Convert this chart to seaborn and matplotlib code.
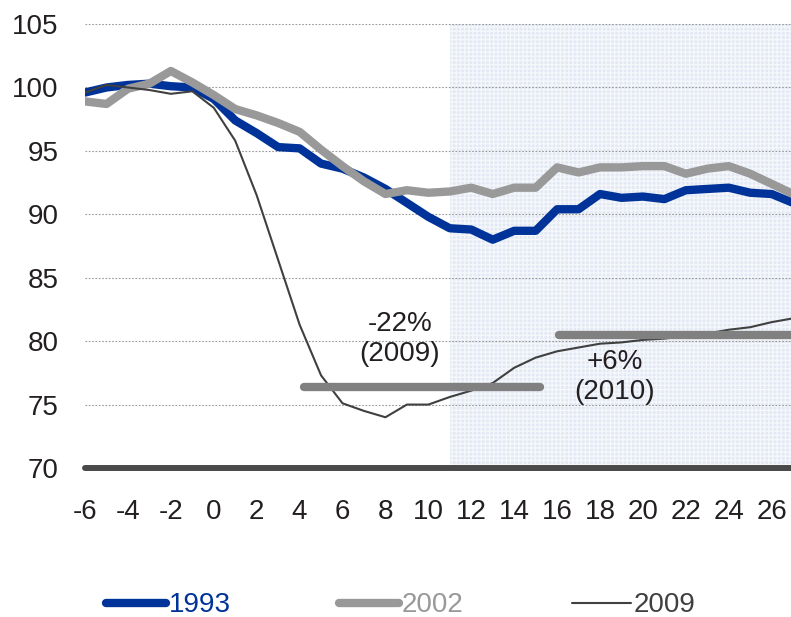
import numpy as np
import pandas as pd
import matplotlib.pyplot as plt
import seaborn as sns

months = list(range(-6, 28))

y1993 = [99.6, 100.0, 100.2, 100.3, 100.1, 100.0, 99.1, 97.4, 96.4, 95.3,
         95.2, 94.0, 93.6, 92.9, 92.0, 90.9, 89.8, 88.9, 88.8, 88.0,
         88.7, 88.7, 90.4, 90.4, 91.6, 91.3, 91.4, 91.2, 91.9, 92.0,
         92.1, 91.7, 91.6, 90.9]
y2002 = [98.9, 98.7, 99.9, 100.3, 101.3, 100.4, 99.4, 98.3, 97.8, 97.2,
         96.5, 95.1, 93.8, 92.6, 91.6, 91.9, 91.7, 91.8, 92.1, 91.6,
         92.1, 92.1, 93.7, 93.3, 93.7, 93.7, 93.8, 93.8, 93.2, 93.6,
         93.8, 93.2, 92.4, 91.6]
y2009 = [99.6, 100.2, 100.0, 99.8, 99.5, 99.7, 98.4, 95.8, 91.5, 86.4,
         81.3, 77.3, 75.1, 74.5, 74.0, 75.0, 75.0, 75.6, 76.1, 76.7,
         77.9, 78.7, 79.2, 79.5, 79.8, 79.9, 80.1, 80.2, 80.4, 80.6,
         80.9, 81.1, 81.5, 81.8]

series_names = ["1993", "2002", "2009"]
series_colors = ["#003399", "#999999", "#404040"]
series_widths = [6, 6, 1.5]

# trough / recovery markers
bar_start = [4.2, 16.1]
bar_end = [15.2, 27]
bar_level = [76.4, 80.5]
bar_text = ["-22%\n(2009)", "+6%\n(2010)"]
text_x = [8.67, 18.68]
text_y = [80.2, 77.2]

shade_from = 11

df = pd.DataFrame({"month": months, "1993": y1993, "2002": y2002, "2009": y2009})

sns.set_style("white")
plt.rcParams["font.family"] = ["Liberation Sans", "DejaVu Sans"]
plt.rcParams["axes.unicode_minus"] = False

fig = plt.figure(figsize=(7.91, 6.17), dpi=100)
ax = fig.add_axes([0.1075, 0.2415, 0.8925, 0.7195])

ax.axvspan(shade_from, 30, facecolor="#e2e8f4", edgecolor="#f5f7fb",
           hatch="++++", linewidth=0, zorder=0)

for v in [75, 80, 85, 90, 95, 100, 105]:
    ax.axhline(v, color="#999999", lw=0.8, ls=(0, (1.5, 1.5)), zorder=1)

for name, c, w in zip(series_names, series_colors, series_widths):
    sns.lineplot(data=df, x="month", y=name, ax=ax, color=c, lw=w,
                 label=name, zorder=3)

for s, e, lv in zip(bar_start, bar_end, bar_level):
    ax.plot([s, e], [lv, lv], color="#808080", lw=6,
            solid_capstyle="round", zorder=4)

for t, tx, ty in zip(bar_text, text_x, text_y):
    ax.text(tx, ty, t, ha="center", va="center", fontsize=20,
            color="#231f20", linespacing=1.2, zorder=5)

ax.axhline(70, color="#4a4a4a", lw=4.3, zorder=6, clip_on=False)

ax.set_xlim(-6, 26.9)
ax.set_ylim(70, 105)
ax.set_xticks(range(-6, 27, 2))
ax.set_yticks(range(70, 106, 5))
ax.tick_params(axis="x", labelsize=20, pad=22, length=0, labelcolor="#231f20")
ax.tick_params(axis="y", labelsize=20, pad=19, length=0, labelcolor="#231f20")
ax.set_xlabel("")
ax.set_ylabel("")
for sp in ax.spines.values():
    sp.set_visible(False)

ax.get_legend().remove()
h, l = ax.get_legend_handles_labels()
fig.legend(h, l, loc="center", bbox_to_anchor=(0.507, 0.019), ncol=3,
           frameon=False, fontsize=20, labelcolor="linecolor",
           handlelength=2.15, handletextpad=0.1, columnspacing=3.9)

fig.savefig("out.png", dpi=100)
